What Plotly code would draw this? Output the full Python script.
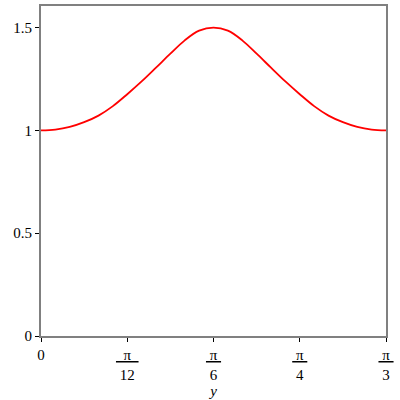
import plotly.graph_objects as go

x_vals = [0.0, 0.04363, 0.08727, 0.1309, 0.17453, 0.21817, 0.2618, 0.30543,
          0.34907, 0.3927, 0.43633, 0.47997, 0.5236, 0.56723, 0.61087, 0.6545,
          0.69813, 0.74176, 0.7854, 0.82903, 0.87266, 0.9163, 0.95993, 1.00356,
          1.0472]
y_vals = [1.0, 1.004, 1.017, 1.040, 1.072, 1.118, 1.176, 1.238,
          1.305, 1.373, 1.438, 1.485, 1.5, 1.485, 1.438, 1.373,
          1.305, 1.238, 1.176, 1.118, 1.072, 1.040, 1.017, 1.004,
          1.0]

x_tick_vals = [0, 0.2617993877991494, 0.5235987755982988, 0.7853981633974483, 1.0471975511965976]
x_tick_text = ["0",
               "<u>&nbsp;&nbsp;π&nbsp;&nbsp;</u><br>12",
               "<u>&nbsp;π&nbsp;</u><br>6",
               "<u>&nbsp;π&nbsp;</u><br>4",
               "<u>&nbsp;π&nbsp;</u><br>3"]
y_tick_vals = [0, 0.5, 1, 1.5]
y_tick_text = ["0", "0.5", "1", "1.5"]

font = dict(family="Liberation Serif, Times New Roman, serif", size=15, color="black")

fig = go.Figure()
fig.add_trace(go.Scatter(x=x_vals, y=y_vals, mode="lines",
                         line=dict(color="#ff0000", width=1.8, shape="spline", smoothing=1.0),
                         hoverinfo="skip"))

fig.update_layout(
    width=400, height=400,
    margin=dict(l=41, r=14, t=6, b=64),
    paper_bgcolor="white", plot_bgcolor="white",
    showlegend=False,
    font=font,
)
fig.update_xaxes(range=[0, 1.0471975511965976], tickvals=x_tick_vals, ticktext=x_tick_text,
                 showgrid=False, zeroline=False, automargin=False,
                 showline=True, linecolor="#808080", linewidth=2, mirror=True,
                 ticks="outside", ticklen=4, tickcolor="black", tickwidth=1,
                 tickfont=font,
                 title=dict(text="<i>y</i>", font=font, standoff=2))
fig.update_yaxes(range=[0, 1.605], tickvals=y_tick_vals, ticktext=y_tick_text,
                 showgrid=False, zeroline=False, automargin=False,
                 showline=True, linecolor="#808080", linewidth=2, mirror=True,
                 ticks="outside", ticklen=4, tickcolor="black", tickwidth=1,
                 tickfont=font)

fig.write_html("out.html", config={"displayModeBar": False},
               post_script="document.body.style.margin='0';")
